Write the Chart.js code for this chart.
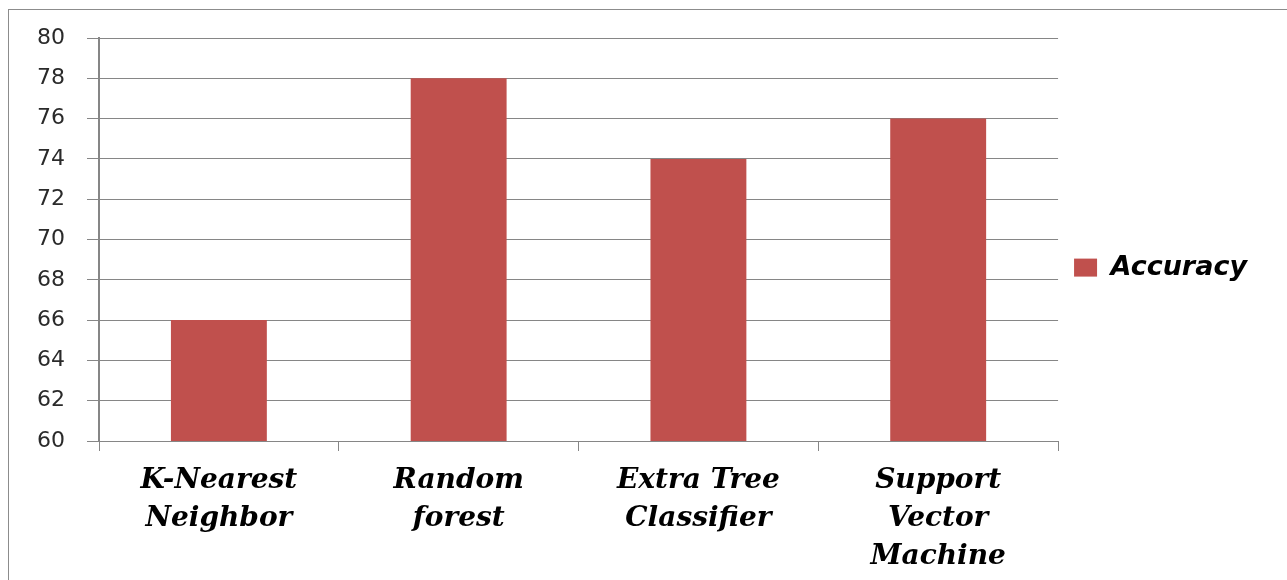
<!DOCTYPE html>
<html><head><meta charset="utf-8">
<script src="https://cdn.jsdelivr.net/npm/chart.js@4"></script>
<style>
html,body{margin:0;padding:0;background:#fff;overflow:hidden}
#wrap{position:relative;width:1287px;height:580px}
#frame{position:absolute;left:8px;top:9px;width:1300px;height:600px;border:1px solid #8c8c8c;box-sizing:border-box}
canvas{position:absolute;left:0;top:0}
</style></head>
<body><div id="wrap"><div id="frame"></div><canvas id="c" width="1287" height="580"></canvas></div>
<script>
const categories = [["K-Nearest","Neighbor"],["Random","forest"],["Extra Tree","Classifier"],["Support","Vector","Machine"]];
const accuracy = [66, 78, 74, 76];
const seriesName = "Accuracy";
const yMin = 60, yMax = 80, yStep = 2;

new Chart(document.getElementById('c'), {
  type: 'bar',
  data: {
    labels: categories,
    datasets: [{
      label: seriesName,
      data: accuracy,
      backgroundColor: '#C0504D',
      borderWidth: 0,
      barPercentage: 0.8,
      categoryPercentage: 0.5
    }]
  },
  options: {
    responsive: false,
    animation: false,
    devicePixelRatio: 1,
    layout: { padding: { top: 38, left: 0, right: 30, bottom: 0 } },
    plugins: {
      tooltip: { enabled: false },
      legend: {
        position: 'right',
        align: 'center',
        fullSize: false,
        title: { display: true, text: ' ', font: { size: 1 }, padding: { top: 0, bottom: 55 } },
        labels: {
          boxWidth: 23, boxHeight: 18, padding: 16, color: '#000',
          font: { family: 'DejaVu Sans', size: 27, weight: 'bold', style: 'italic' }
        }
      }
    },
    scales: {
      y: {
        min: yMin, max: yMax,
        ticks: { stepSize: yStep, padding: 22, color: '#2a2a2a', font: { family: 'DejaVu Sans', size: 22 } },
        grid: { color: '#868686', lineWidth: 1, tickLength: 12 },
        border: { color: '#868686', width: 2 },
        afterFit(s) { s.width = 99; }
      },
      x: {
        grid: { drawOnChartArea: false, drawTicks: true, tickLength: 10, color: '#868686', offset: true },
        border: { color: '#868686', width: 1 },
        ticks: {
          padding: 11, color: '#000', maxRotation: 0, autoSkip: false,
          font: { family: 'DejaVu Serif', size: 28, weight: 'bold', style: 'italic', lineHeight: 1.36 }
        },
        afterFit(s) { s.height = 139; }
      }
    }
  }
});
</script>
</body></html>
